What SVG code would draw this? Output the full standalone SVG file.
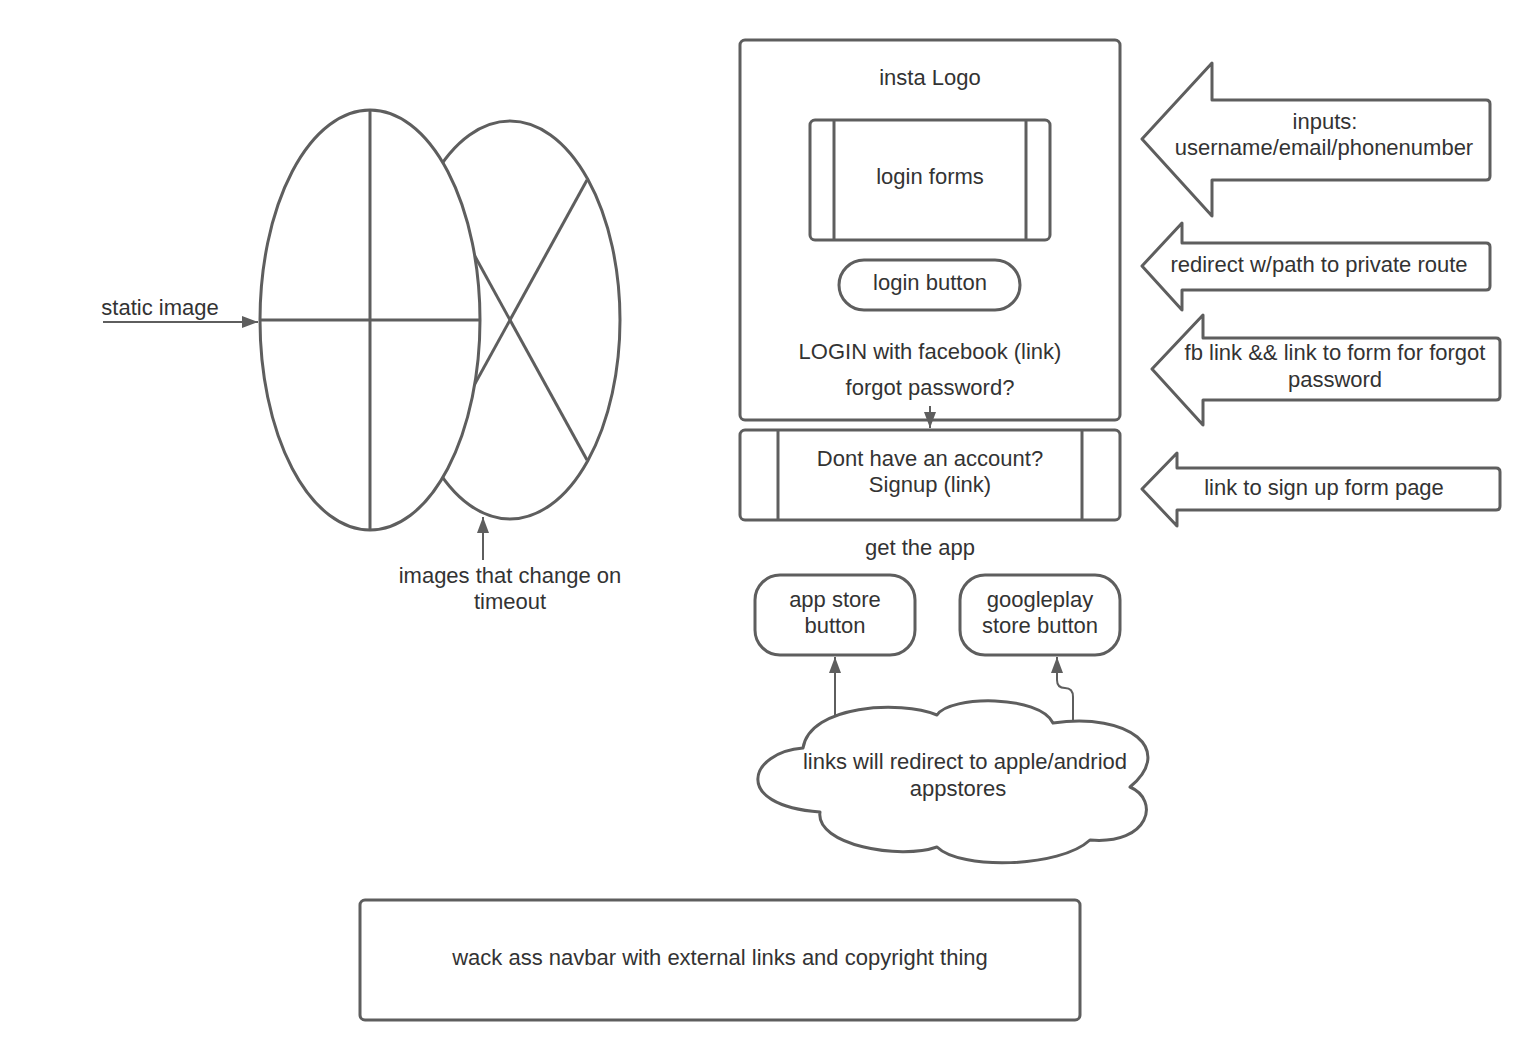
<svg xmlns="http://www.w3.org/2000/svg" width="1540" height="1060" viewBox="0 0 1540 1060">
<defs>
<style>
.s{fill:#fff;stroke:#5e5e5e;stroke-width:3;stroke-linejoin:round}
.l{fill:none;stroke:#5e5e5e;stroke-width:3}
.c{fill:none;stroke:#5e5e5e;stroke-width:2}
text{font-family:"Liberation Sans",Arial,sans-serif;font-size:22px;fill:#333;text-anchor:middle}
</style>
<marker id="ah" markerUnits="userSpaceOnUse" markerWidth="18" markerHeight="14" refX="16" refY="6" orient="auto">
<path d="M0,0 L16,6 L0,12 z" fill="#5e5e5e"/>
</marker>
</defs>
<rect width="1540" height="1060" fill="#fff"/>

<g id="images-changing">
<ellipse class="s" cx="510" cy="320" rx="110" ry="199"/>
<line class="l" x1="587" y1="180" x2="433" y2="460"/>
<line class="l" x1="587" y1="460" x2="433" y2="180"/>
</g>
<g id="static-image">
<ellipse class="s" cx="370" cy="320" rx="110" ry="210"/>
<line class="l" x1="370" y1="110" x2="370" y2="530"/>
<line class="l" x1="260" y1="320" x2="480" y2="320"/>
</g>
<g id="label-static"><text x="160" y="315">static image</text></g>
<g id="label-images"><text x="510" y="583">images that change on</text><text x="510" y="609">timeout</text></g>

<g id="login-box">
<rect class="s" x="740" y="40" width="380" height="380" rx="5"/>
<text x="930" y="85">insta Logo</text>
<text x="930" y="359">LOGIN with facebook (link)</text>
<text x="930" y="395">forgot password?</text>
</g>
<g id="login-forms">
<rect class="s" x="810" y="120" width="240" height="120" rx="5"/>
<line class="l" x1="834" y1="120" x2="834" y2="240"/>
<line class="l" x1="1026" y1="120" x2="1026" y2="240"/>
<text x="930" y="184">login forms</text>
</g>
<g id="login-button">
<rect class="s" x="839" y="260" width="181" height="50" rx="25"/>
<text x="930" y="290">login button</text>
</g>
<g id="signup">
<rect class="s" x="740" y="430" width="380" height="90" rx="5"/>
<line class="l" x1="778" y1="430" x2="778" y2="520"/>
<line class="l" x1="1082" y1="430" x2="1082" y2="520"/>
<text x="930" y="466">Dont have an account?</text>
<text x="930" y="492">Signup (link)</text>
</g>
<g id="get-app"><text x="920" y="555">get the app</text></g>
<g id="appstore">
<rect class="s" x="755" y="575" width="160" height="80" rx="25"/>
<text x="835" y="607">app store</text>
<text x="835" y="633">button</text>
</g>
<g id="googleplay">
<rect class="s" x="960" y="575" width="160" height="80" rx="25"/>
<text x="1040" y="607">googleplay</text>
<text x="1040" y="633">store button</text>
</g>
<g id="cloud">
<path class="s" d="M803,748 C750,752 730,805 820,812 C815,845 900,860 937,847 C960,870 1060,868 1090,840 C1150,845 1160,800 1130,787 C1175,750 1130,712 1053,723 C1040,695 950,695 937,715 C900,700 810,705 803,748 Z"/>
<text x="965" y="769">links will redirect to apple/andriod</text>
<text x="958" y="796">appstores</text>
</g>
<g id="footer">
<rect class="s" x="360" y="900" width="720" height="120" rx="5"/>
<text x="720" y="965">wack ass navbar with external links and copyright thing</text>
</g>

<g id="note-inputs">
<path class="s" d="M1142,139 L1212,63 L1212,100 L1486,100 Q1490,100 1490,104 L1490,176 Q1490,180 1486,180 L1212,180 L1212,216 Z"/>
<text x="1325" y="129">inputs:</text>
<text x="1324" y="155">username/email/phonenumber</text>
</g>
<g id="note-redirect">
<path class="s" d="M1142,266 L1182,223 L1182,243 L1486,243 Q1490,243 1490,247 L1490,286 Q1490,290 1486,290 L1182,290 L1182,310 Z"/>
<text x="1319" y="272">redirect w/path to private route</text>
</g>
<g id="note-fb">
<path class="s" d="M1152,369 L1203,315 L1203,338 L1496,338 Q1500,338 1500,342 L1500,396 Q1500,400 1496,400 L1203,400 L1203,425 Z"/>
<text x="1335" y="360">fb link &amp;&amp; link to form for forgot</text>
<text x="1335" y="387">password</text>
</g>
<g id="note-signup">
<path class="s" d="M1142,489 L1177,453 L1177,468 L1496,468 Q1500,468 1500,472 L1500,506 Q1500,510 1496,510 L1177,510 L1177,526 Z"/>
<text x="1324" y="495">link to sign up form page</text>
</g>

<g id="connectors">
<path class="c" d="M103,322 L258,322" marker-end="url(#ah)"/>
<path class="c" d="M483,560 L483,517" marker-end="url(#ah)"/>
<path class="c" d="M930,406 L930,428" marker-end="url(#ah)"/>
<path class="c" d="M835,715 L835,657" marker-end="url(#ah)"/>
<path class="c" d="M1073,722 L1073,697 Q1073,688 1065,688 Q1057,688 1057,680 L1057,657" marker-end="url(#ah)"/>
</g>
</svg>
